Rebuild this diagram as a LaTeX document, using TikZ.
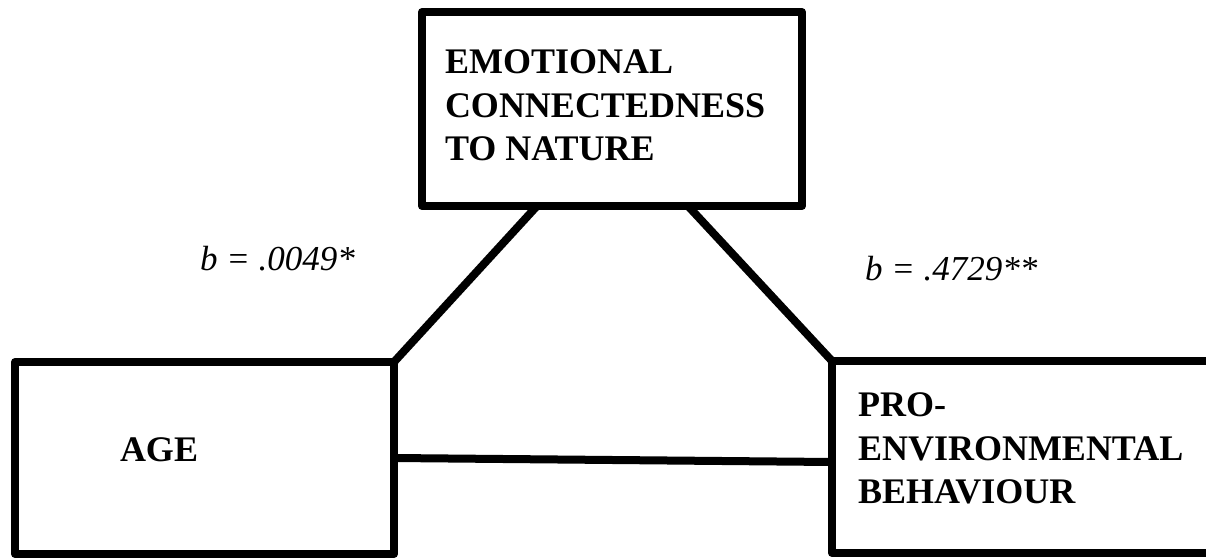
\documentclass[tikz,border=0pt]{standalone}
\usepackage{fontspec}
\setmainfont{Liberation Serif}
\usetikzlibrary{calc}
\begin{document}
\begin{tikzpicture}[x=1pt,y=-1pt,
  boxst/.style={draw, line width=8pt, line join=round, inner sep=0pt, outer sep=0pt},
  txt/.style={inner sep=0pt, outer sep=0pt, align=left, anchor=north west,
    font=\fontsize{36}{43.5}\selectfont\bfseries},
  coef/.style={inner sep=0pt, outer sep=0pt, anchor=base west,
    font=\fontsize{35}{42}\selectfont\itshape},
  link/.style={line width=8pt}]
\useasboundingbox (0,0) rectangle (1206,559);
\clip (0,0) rectangle (1206,559);
\fill[white] (0,0) rectangle (1206,559);
% boxes
\node[boxst, minimum width=380pt, minimum height=194pt] (ecn) at (612,109) {};
\node[boxst, minimum width=379pt, minimum height=192pt] (age) at (204.5,458) {};
\node[boxst, minimum width=380pt, minimum height=192pt] (peb) at (1022,457) {};
% texts
\node[txt] (ecnt) at (445,50) {EMOTIONAL\\CONNECTEDNESS\\TO NATURE};
\node[txt] (aget) at (120,438) {AGE};
\node[txt] (pebt) at (858,393) {PRO-\\ENVIRONMENTAL\\BEHAVIOUR};
% coefficients
\node[coef] (b1) at (200,270) {b = .0049*};
\node[coef] (b2) at (865,280) {b = .4729**};
% connectors
\coordinate (l1) at ($(ecn.south west)!0.3026!(ecn.south east)$);
\coordinate (r1) at ($(ecn.south west)!0.70!(ecn.south east)$);
\draw[link] (l1) -- (age.north east);
\draw[link] (r1) -- (peb.north west);
\draw[link] (age.east) -- ($(peb.west)+(0,5)$);
\end{tikzpicture}
\end{document}
